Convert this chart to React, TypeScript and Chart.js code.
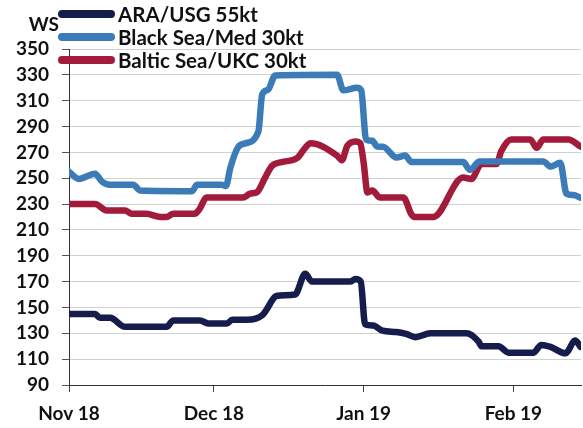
import React, { useEffect, useRef } from "react";
import { Chart, registerables } from "chart.js";

Chart.register(...registerables);

// ---- data (x = days since 1 Nov 2018) ----
const monthTickDays = [0, 30, 61, 92];
const monthTickLabels = ["Nov 18", "Dec 18", "Jan 19", "Feb 19"];
const yTickValues = [90, 110, 130, 150, 170, 190, 210, 230, 250, 270, 290, 310, 330, 350];
const seriesNames = ["ARA/USG 55kt", "Black Sea/Med 30kt", "Baltic Sea/UKC 30kt"];
const axisTitle = "WS";

const araDays = [0, 5.4, 6.4, 8.5, 11.6, 20.2, 21.6, 27.1, 28.8, 32.7, 33.8, 36.9, 40, 43.1, 46.8, 48.9, 50.3, 58.2, 59.3, 60.4, 61.3, 63, 64.9, 67.8, 69.8, 71.7, 74.8, 82.3, 84.8, 85.4, 88.9, 91, 96.1, 97.8, 99.7, 102.8, 104.8, 105.9];
const araValues = [145, 145, 142, 142, 135, 135, 140, 140, 137.6, 137.6, 140.5, 140.5, 144, 159, 160, 176, 170, 170, 172, 170, 137, 136, 132, 131, 129.5, 127, 130, 130, 123.5, 120, 120, 115, 115, 121, 119.5, 114.5, 124.5, 119.5];

const blackSeaDays = [0, 2, 5.4, 6.8, 8.5, 13.3, 14.7, 25.5, 26.5, 31.5, 32.5, 33.4, 35, 36.5, 39.2, 40, 41.2, 42.7, 55.5, 56.8, 59.6, 60.5, 61.5, 62.8, 63.8, 65, 67.8, 69.6, 70.9, 81.6, 83, 85, 98.2, 99.7, 101.7, 103, 104.4, 105.9];
const blackSeaValues = [255, 249.5, 253.5, 247.5, 245, 245, 240.5, 240, 245, 245, 244, 258, 274, 277, 286, 315, 318.5, 329.5, 330, 318, 320, 318, 280, 279, 274.5, 274.4, 266, 267.5, 262.5, 262.5, 256.5, 263, 263, 259, 262, 238, 237, 235];

const balticDays = [0, 5.4, 7.8, 11.6, 13, 16, 18.9, 20.2, 21.6, 26, 27, 28.5, 36, 37.5, 39, 40.6, 42, 44, 47.2, 49, 50, 55.5, 56.5, 57.6, 59.3, 60.3, 61, 61.8, 62.8, 64.4, 69.2, 70.9, 71.5, 75.4, 81.6, 83.3, 85.4, 88.5, 89.5, 91.6, 95.5, 96.8, 98.2, 103.4, 105.9];
const balticValues = [230, 230, 225, 225, 222.5, 222.5, 220, 220, 222.5, 222.5, 226, 235, 235, 238, 239.5, 250.5, 259.5, 262.5, 265.5, 274, 277, 267.5, 264, 275, 278.5, 277, 262, 239, 240.5, 235, 235, 222, 220, 220, 250.5, 249.5, 261, 261, 271, 280, 280, 273.5, 280, 280, 274.5];

const seriesColors = ["#161d4c", "#3a7bb8", "#a31b3b"];

const toPoints = (xs: number[], ys: number[]) => xs.map((x, i) => ({ x, y: ys[i] }));

const FONT = "Lato, 'DejaVu Sans', sans-serif";

const legendPlugin = {
  id: "customLegend",
  afterDraw(chart: any) {
    const ctx = chart.ctx as CanvasRenderingContext2D;
    ctx.save();
    const rows = [14, 37, 60];
    chart.data.datasets.forEach((ds: any, i: number) => {
      const y = rows[i];
      ctx.strokeStyle = ds.borderColor;
      ctx.lineWidth = 8;
      ctx.lineCap = "round";
      ctx.beginPath();
      ctx.moveTo(62, y);
      ctx.lineTo(111, y);
      ctx.stroke();
      ctx.fillStyle = "#111";
      ctx.font = `bold 20.5px ${FONT}`;
      ctx.textAlign = "left";
      ctx.textBaseline = "middle";
      ctx.fillText(ds.label, 118, y + 1);
    });
    ctx.font = `bold 19px ${FONT}`;
    ctx.textAlign = "right";
    ctx.textBaseline = "middle";
    ctx.fillStyle = "#111";
    ctx.fillText(axisTitle, 59, 25);
    ctx.restore();
  },
};

export default function App() {
  const ref = useRef<HTMLCanvasElement>(null);
  useEffect(() => {
    if (!ref.current) return;
    const datasets = [
      toPoints(araDays, araValues),
      toPoints(blackSeaDays, blackSeaValues),
      toPoints(balticDays, balticValues),
    ].map((data, i) => ({
      label: seriesNames[i],
      data,
      borderColor: seriesColors[i],
      backgroundColor: seriesColors[i],
      borderWidth: 6.5,
      pointRadius: 0,
      fill: false,
      cubicInterpolationMode: "monotone" as const,
      borderJoinStyle: "round" as const,
      borderCapStyle: "round" as const,
    }));
    const chart = new Chart(ref.current, {
      type: "line",
      data: { datasets },
      options: {
        animation: false,
        responsive: true,
        maintainAspectRatio: false,
        layout: { padding: { left: 0, top: 49, right: 2, bottom: 0 } },
        plugins: { legend: { display: false }, tooltip: { enabled: false } },
        font: { family: FONT },
        scales: {
          x: {
            type: "linear",
            min: 0,
            max: 106,
            afterBuildTicks: (scale: any) => {
              scale.ticks = monthTickDays.map((v) => ({ value: v }));
            },
            afterFit: (scale: any) => {
              scale.height = 43;
            },
            ticks: {
              autoSkip: false,
              maxRotation: 0,
              padding: 10,
              color: "#111",
              font: { family: FONT, size: 19, weight: "bold" },
              callback: (v: any) => {
                const idx = monthTickDays.indexOf(Number(v));
                return idx >= 0 ? monthTickLabels[idx] : "";
              },
            },
            grid: { drawOnChartArea: false, drawTicks: true, tickLength: 7, tickColor: "#444" },
            border: { color: "#333", width: 1 },
          },
          y: {
            min: 90,
            max: 350,
            afterBuildTicks: (scale: any) => {
              scale.ticks = yTickValues.map((v) => ({ value: v }));
            },
            afterFit: (scale: any) => {
              scale.width = 69;
            },
            ticks: {
              padding: 13,
              color: "#111",
              font: { family: FONT, size: 19, weight: "bold" },
            },
            grid: { color: "#d0d0d0", lineWidth: 1, drawTicks: true, tickLength: 7, tickColor: "#555" },
            border: { color: "#333", width: 1 },
          },
        },
      },
      plugins: [legendPlugin],
    });
    return () => chart.destroy();
  }, []);
  return (
    <div style={{ position: "fixed", left: 0, top: 0, width: 583, height: 428, background: "#fff" }}>
      <canvas ref={ref} />
    </div>
  );
}
